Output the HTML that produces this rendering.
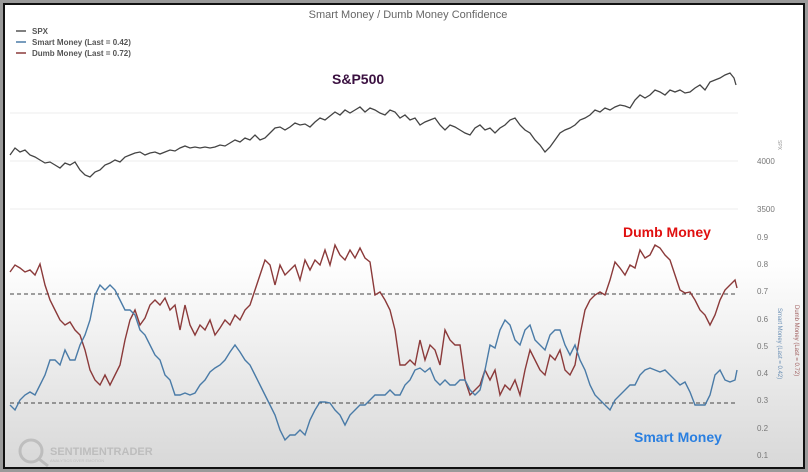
<!DOCTYPE html>
<html><head><meta charset="utf-8"><style>
html,body{margin:0;padding:0;background:#fff}
svg{display:block;font-family:"Liberation Sans",sans-serif}
</style></head><body>
<svg width="808" height="472" viewBox="0 0 808 472" xmlns="http://www.w3.org/2000/svg">
<defs>
<linearGradient id="bg" x1="0" y1="0" x2="0" y2="1">
<stop offset="0" stop-color="#ffffff"/><stop offset="0.55" stop-color="#ffffff"/><stop offset="1" stop-color="#d8d8d8"/>
</linearGradient>
</defs>
<rect x="0" y="0" width="808" height="472" fill="#9a9a9a"/>
<rect x="3" y="3" width="802" height="466" fill="#111"/>
<rect x="5" y="5" width="798" height="462" fill="url(#bg)"/>
<text x="408" y="18" font-size="11" fill="#666" text-anchor="middle">Smart Money / Dumb Money Confidence</text>
<g font-size="8" fill="#555" font-weight="bold">
<line x1="16" y1="31" x2="26" y2="31" stroke="#555" stroke-width="1.5"/><text x="32" y="34">SPX</text>
<line x1="16" y1="42" x2="26" y2="42" stroke="#4a7ba7" stroke-width="1.5"/><text x="32" y="45">Smart Money (Last = 0.42)</text>
<line x1="16" y1="53" x2="26" y2="53" stroke="#8b3a3a" stroke-width="1.5"/><text x="32" y="56">Dumb Money (Last = 0.72)</text>
</g>
<g stroke="#eee" stroke-width="1">
<line x1="10" y1="113" x2="738" y2="113"/><line x1="10" y1="161" x2="738" y2="161"/><line x1="10" y1="209" x2="738" y2="209"/>
</g>
<g font-size="8" fill="#777">
<text x="757" y="164">4000</text><text x="757" y="212">3500</text>
<text x="757" y="240">0.9</text><text x="757" y="267">0.8</text><text x="757" y="294">0.7</text><text x="757" y="322">0.6</text>
<text x="757" y="349">0.5</text><text x="757" y="376">0.4</text><text x="757" y="403">0.3</text><text x="757" y="431">0.2</text><text x="757" y="458">0.1</text>
</g>
<text transform="translate(778,140) rotate(90)" font-size="5" fill="#999">SPX</text>
<text transform="translate(778,308) rotate(90)" font-size="6" fill="#6a8fb5">Smart Money (Last = 0.42)</text>
<text transform="translate(795,305) rotate(90)" font-size="6" fill="#a06060">Dumb Money (Last = 0.72)</text>
<line x1="10" y1="294" x2="738" y2="294" stroke="#444" stroke-dasharray="4,3" stroke-width="1"/>
<line x1="10" y1="403" x2="738" y2="403" stroke="#444" stroke-dasharray="4,3" stroke-width="1"/>
<polyline fill="none" stroke="#444" stroke-width="1.3" points="10,155 15,148 20,152 25,150 30,155 35,157 40,160 45,163 50,162 55,165 60,168 65,163 70,165 75,162 80,170 85,175 90,177 95,172 100,170 105,165 110,163 115,160 120,162 125,157 130,155 135,153 140,152 145,155 150,153 155,152 160,154 165,152 170,150 175,151 180,148 185,146 190,148 195,147 200,148 205,147 210,148 215,147 220,145 225,146 230,143 235,140 240,142 245,138 250,140 255,135 260,140 265,138 270,133 275,128 280,127 285,130 290,127 295,123 300,125 305,124 310,127 315,122 320,118 325,120 330,116 335,112 340,115 345,110 350,113 355,110 360,107 365,112 370,108 375,110 380,113 385,115 390,110 395,112 400,118 405,115 410,120 415,118 420,125 425,122 430,120 435,118 440,125 445,130 450,125 455,127 460,130 465,133 470,135 475,128 480,125 485,130 490,128 495,133 500,128 505,125 510,120 515,118 520,125 525,130 530,133 535,140 540,145 545,152 550,147 555,140 560,133 565,130 570,128 575,125 580,120 585,118 590,115 595,110 600,112 605,108 610,110 615,107 620,105 625,106 630,108 635,100 640,95 645,98 650,95 655,90 660,92 665,95 670,90 675,92 680,90 685,93 690,92 695,88 700,85 705,90 710,82 715,80 720,78 725,75 730,73 734,78 736,85"/>
<polyline fill="none" stroke="#8b3a3a" stroke-width="1.4" points="10,272 15,265 20,268 25,272 30,270 35,275 40,264 45,285 50,300 55,310 60,320 65,325 70,322 75,330 80,335 85,350 90,370 95,380 100,385 105,375 110,385 115,375 120,365 125,340 130,320 135,310 140,325 145,318 150,305 155,300 160,305 165,298 170,310 175,305 180,330 185,305 190,325 195,335 200,325 205,330 210,320 215,335 220,328 225,320 230,325 235,315 240,320 245,310 250,305 255,290 260,275 265,260 270,265 275,285 280,265 285,275 290,270 295,265 300,280 305,260 310,270 315,260 320,265 325,250 330,265 335,245 340,255 345,260 350,250 355,258 360,248 365,258 370,262 375,295 380,292 385,300 390,310 395,330 400,365 405,365 410,360 415,365 420,340 425,360 430,345 435,350 440,365 445,330 450,340 455,345 460,345 465,380 470,395 475,390 480,385 485,370 490,380 495,370 500,395 505,385 510,390 515,380 520,395 525,370 530,350 535,360 540,370 545,375 550,355 555,360 560,350 565,370 570,375 575,365 580,335 585,310 590,300 595,295 600,292 605,295 610,280 615,262 620,268 625,275 630,265 635,268 640,250 645,258 650,255 655,245 660,248 665,255 670,260 675,275 680,290 685,293 690,292 695,300 700,310 705,315 710,325 715,315 720,300 725,290 730,285 735,280 737,288"/>
<polyline fill="none" stroke="#4a7ba7" stroke-width="1.4" points="10,405 15,410 20,400 25,395 30,392 35,395 40,385 45,375 50,360 55,360 60,365 65,350 70,360 75,360 80,345 85,335 90,320 95,295 100,285 105,290 110,285 115,290 120,300 125,310 130,310 135,315 140,330 145,335 150,345 155,355 160,360 165,375 170,380 175,395 180,395 185,393 190,395 195,393 200,385 205,380 210,372 215,368 220,365 225,360 230,352 235,345 240,352 245,360 250,365 255,375 260,385 265,395 270,405 275,415 280,430 285,440 290,435 295,435 300,430 305,435 310,420 315,410 320,402 325,402 330,403 335,410 340,415 345,425 350,415 355,410 360,405 365,405 370,400 375,395 380,395 385,395 390,390 395,395 400,395 405,385 410,380 415,370 420,368 425,372 430,368 435,380 440,385 445,380 450,385 455,385 460,380 465,380 470,390 475,395 480,390 485,370 490,345 495,348 500,330 505,320 510,325 515,340 520,345 525,330 530,325 535,340 540,345 545,350 550,335 555,330 560,330 565,345 570,355 575,345 580,360 585,370 590,385 595,395 600,400 605,405 610,410 615,400 620,395 625,390 630,385 635,385 640,375 645,370 650,368 655,370 660,372 665,370 670,375 675,380 680,385 685,382 690,392 695,405 700,405 705,405 710,395 715,375 720,370 725,380 730,382 735,380 737,370"/>
<text x="332" y="84" font-size="14" font-weight="bold" fill="#3a1040">S&amp;P500</text>
<text x="623" y="237" font-size="14" font-weight="bold" fill="#e01010">Dumb Money</text>
<text x="634" y="442" font-size="14" font-weight="bold" fill="#2a7fe0">Smart Money</text>
<g opacity="0.35">
<circle cx="31" cy="451" r="11" fill="none" stroke="#888" stroke-width="3"/>
<line x1="39" y1="459" x2="48" y2="466" stroke="#888" stroke-width="3"/>
<text x="50" y="455" font-size="11" font-weight="bold" fill="#888">SENTIMENTRADER</text>
<text x="50" y="462" font-size="4" fill="#888">ANALYTICS OVER EMOTION</text>
</g>
</svg>
</body></html>
